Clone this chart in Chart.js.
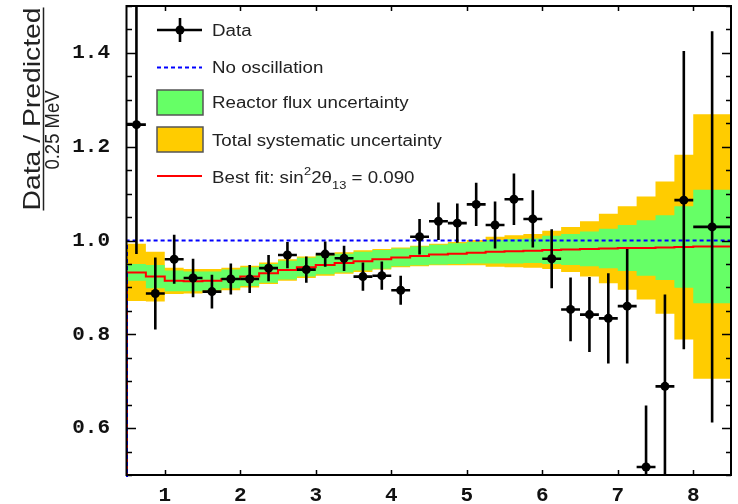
<!DOCTYPE html>
<html><head><meta charset="utf-8">
<script src="https://cdn.jsdelivr.net/npm/chart.js@4.4.0/dist/chart.umd.min.js"></script>
<style>html,body{margin:0;padding:0;background:#fff;}#wrap{width:738px;height:504px;}</style>
</head><body><div id="wrap"><canvas id="c" width="738" height="504"></canvas></div>
<script>
// ---- data ----
const binEdges = [0.5,0.75,1.0,1.25,1.5,1.75,2.0,2.25,2.5,2.75,3.0,3.25,3.5,3.75,4.0,4.25,4.5,4.75,5.0,5.25,5.5,5.75,6.0,6.25,6.5,6.75,7.0,7.25,7.5,7.75,8.0,8.5];
const dataRatio = [1.247,0.887,0.960,0.920,0.891,0.918,0.918,0.941,0.969,0.938,0.971,0.962,0.923,0.925,0.894,1.008,1.041,1.037,1.077,1.033,1.088,1.046,0.961,0.853,0.842,0.834,0.860,0.517,0.689,1.086,1.029];
const dataError = [0.276,0.077,0.052,0.041,0.036,0.033,0.030,0.028,0.028,0.028,0.027,0.027,0.030,0.030,0.031,0.038,0.040,0.042,0.046,0.050,0.055,0.061,0.063,0.068,0.080,0.096,0.122,0.131,0.196,0.318,0.417];
const bestFit = [0.932,0.923,0.914,0.913,0.914,0.918,0.923,0.930,0.937,0.943,0.948,0.952,0.956,0.960,0.964,0.967,0.970,0.972,0.974,0.976,0.977,0.978,0.980,0.981,0.982,0.983,0.984,0.984,0.985,0.986,0.987];
const fluxHalfWidth = [0.018,0.025,0.022,0.021,0.020,0.020,0.020,0.020,0.020,0.020,0.020,0.020,0.020,0.020,0.019,0.020,0.021,0.022,0.023,0.025,0.026,0.026,0.030,0.033,0.037,0.042,0.049,0.059,0.069,0.087,0.121];
const totalHalfWidth = [0.061,0.053,0.028,0.026,0.025,0.024,0.023,0.023,0.023,0.023,0.023,0.023,0.023,0.022,0.021,0.022,0.023,0.025,0.027,0.032,0.034,0.036,0.041,0.048,0.059,0.074,0.089,0.110,0.141,0.197,0.282];
const noOscillation = 1.0;
const xTickValues = [1,2,3,4,5,6,7,8];
const yTickValues = [0.6,0.8,1.0,1.2,1.4];
const yMinorStep = 0.05;
const xRange = [0.5, 8.5];
const yRange = [0.5, 1.5];

// ---- derived structures ----
const nBins = binEdges.length - 1;
const centers = [], halfW = [];
for (let i = 0; i < nBins; i++) { centers.push((binEdges[i]+binEdges[i+1])/2); halfW.push((binEdges[i+1]-binEdges[i])/2); }
function steps(vals) {
  const pts = [];
  for (let i = 0; i < nBins; i++) { pts.push({x: binEdges[i], y: vals[i]}); pts.push({x: binEdges[i+1], y: vals[i]}); }
  return pts;
}
const totUp = bestFit.map((v,i)=>v+totalHalfWidth[i]);
const totLo = bestFit.map((v,i)=>v-totalHalfWidth[i]);
const fluxUp = bestFit.map((v,i)=>v+fluxHalfWidth[i]);
const fluxLo = bestFit.map((v,i)=>v-fluxHalfWidth[i]);

const YELLOW = '#FFCC00', GREEN = '#66FF66';
const none = 'rgba(0,0,0,0)';
const bandDs = (pts, fill, color, order) => ({data: pts, fill: fill, backgroundColor: color, borderColor: none, borderWidth: 0, pointRadius: 0, tension: 0, order: order});

const fitPts = [{x: xRange[0], y: yRange[0]-0.1}].concat(steps(bestFit));
const noOscPts = [{x: xRange[0], y: yRange[0]-0.1}, {x: xRange[0], y: noOscillation}, {x: xRange[1], y: noOscillation}];

const DATA_INDEX = 6;

const errorBarPlugin = {
  id: 'errorBars',
  beforeDatasetDraw(chart, args) {
    if (args.index !== DATA_INDEX) return;
    const {ctx, chartArea: a, scales: {x, y}} = chart;
    ctx.save();
    ctx.beginPath(); ctx.rect(a.left, a.top, a.right-a.left, a.bottom-a.top); ctx.clip();
    ctx.strokeStyle = '#000'; ctx.lineWidth = 2.6; ctx.lineCap = 'butt';
    for (let i = 0; i < nBins; i++) {
      const cx = x.getPixelForValue(centers[i]);
      const cy = y.getPixelForValue(dataRatio[i]);
      ctx.beginPath();
      ctx.moveTo(cx, y.getPixelForValue(dataRatio[i]+dataError[i]));
      ctx.lineTo(cx, y.getPixelForValue(dataRatio[i]-dataError[i]));
      ctx.moveTo(x.getPixelForValue(centers[i]-halfW[i]), cy);
      ctx.lineTo(x.getPixelForValue(centers[i]+halfW[i]), cy);
      ctx.stroke();
    }
    ctx.restore();
  }
};

const framePlugin = {
  id: 'frame',
  afterDraw(chart) {
    const {ctx, chartArea: a, scales: {x, y}} = chart;
    ctx.save();
    ctx.strokeStyle = '#000'; ctx.lineWidth = 2;
    ctx.strokeRect(a.left - 0.5, a.top, a.right-a.left + 0.5, a.bottom-a.top);
    ctx.lineWidth = 1.5;
    ctx.beginPath();
    for (let v = yRange[0]; v <= yRange[1]+1e-9; v += yMinorStep) {
      const vv = Math.round(v*100)/100;
      const major = yTickValues.some(t => Math.abs(t-vv) < 1e-6);
      const len = major ? 9 : 5;
      const py = Math.round(y.getPixelForValue(vv)) + 0.5;
      ctx.moveTo(a.left, py); ctx.lineTo(a.left+len, py);
      ctx.moveTo(a.right, py); ctx.lineTo(a.right-len, py);
    }
    for (const t of xTickValues) {
      const px = Math.round(x.getPixelForValue(t)) + 0.5;
      ctx.moveTo(px, a.bottom); ctx.lineTo(px, a.bottom-5);
      ctx.moveTo(px, a.top); ctx.lineTo(px, a.top+5);
    }
    ctx.stroke();
    ctx.restore();
  }
};

const legendPlugin = {
  id: 'customLegend',
  afterDraw(chart) {
    const ctx = chart.ctx;
    const sx = 1.17;
    const font = '16px "Liberation Sans", Arial, sans-serif';
    const tx = 212;
    function txt(s, x0, yb, f) {
      ctx.save(); ctx.font = f || font; ctx.fillStyle = '#222';
      ctx.translate(x0, yb); ctx.scale(sx, 1); ctx.textBaseline = 'alphabetic'; ctx.fillText(s, 0, 0);
      const w = ctx.measureText(s).width * sx; ctx.restore(); return w;
    }
    ctx.save();
    ctx.strokeStyle = '#000'; ctx.lineWidth = 2.6;
    ctx.beginPath(); ctx.moveTo(157, 30); ctx.lineTo(202, 30); ctx.moveTo(180, 18); ctx.lineTo(180, 42); ctx.stroke();
    ctx.fillStyle = '#000'; ctx.beginPath(); ctx.arc(180, 30, 4.5, 0, Math.PI*2); ctx.fill();
    txt('Data', tx, 36);
    ctx.strokeStyle = '#0000FF'; ctx.lineWidth = 2; ctx.setLineDash([4,3]);
    ctx.beginPath(); ctx.moveTo(157, 67.5); ctx.lineTo(202, 67.5); ctx.stroke(); ctx.setLineDash([]);
    txt('No oscillation', tx, 73);
    ctx.fillStyle = GREEN; ctx.fillRect(157, 90, 46, 25);
    ctx.strokeStyle = '#555'; ctx.lineWidth = 1.5; ctx.strokeRect(157, 90, 46, 25);
    txt('Reactor flux uncertainty', tx, 108);
    ctx.fillStyle = YELLOW; ctx.fillRect(157, 127, 46, 25);
    ctx.strokeStyle = '#555'; ctx.strokeRect(157, 127, 46, 25);
    txt('Total systematic uncertainty', tx, 145.5);
    ctx.strokeStyle = '#FF0000'; ctx.lineWidth = 2;
    ctx.beginPath(); ctx.moveTo(157, 176); ctx.lineTo(202, 176); ctx.stroke();
    let cx = tx;
    const small = '11px "Liberation Sans", Arial, sans-serif';
    cx += txt('Best fit: sin', cx, 182.5);
    cx += txt('2', cx + 0.5, 175, small) + 0.5;
    cx += txt('2\u03B8', cx, 182.5);
    cx += txt('13', cx, 189, small);
    txt(' = 0.090', cx, 182.5);
    ctx.restore();
  }
};

const titlePlugin = {
  id: 'yTitle',
  afterDraw(chart) {
    const ctx = chart.ctx;
    ctx.save();
    ctx.rotate(-Math.PI/2);
    ctx.fillStyle = '#222';
    ctx.textAlign = 'center'; ctx.textBaseline = 'alphabetic';
    ctx.save();
    ctx.font = '24px "Liberation Sans", Arial, sans-serif';
    const w = ctx.measureText('Data / Predicted').width * 1.18;
    ctx.translate(-109, 40); ctx.scale(1.18, 1);
    ctx.fillText('Data / Predicted', 0, 0);
    ctx.restore();
    ctx.strokeStyle = '#222'; ctx.lineWidth = 1.5;
    ctx.beginPath(); ctx.moveTo(-109 - w/2, 43.5); ctx.lineTo(-109 + w/2, 43.5); ctx.stroke();
    ctx.save();
    ctx.font = '21px "Liberation Sans", Arial, sans-serif';
    ctx.translate(-130, 59); ctx.scale(0.88, 1);
    ctx.fillText('0.25 MeV', 0, 0);
    ctx.restore();
    ctx.restore();
  }
};

const tickFont = {family: '"Liberation Mono", "DejaVu Sans Mono", monospace', weight: 'bold', size: 21};

new Chart(document.getElementById('c'), {
  type: 'line',
  data: {
    datasets: [
      bandDs(steps(totUp), '+1', YELLOW, 10),
      bandDs(steps(totLo), false, YELLOW, 10),
      bandDs(steps(fluxUp), '+1', GREEN, 9),
      bandDs(steps(fluxLo), false, GREEN, 9),
      {data: fitPts, borderColor: '#FF0000', borderWidth: 2, pointRadius: 0, fill: false, tension: 0, order: 8, clip: 2},
      {data: noOscPts, borderColor: '#0000FF', borderWidth: 2, borderDash: [4,3], pointRadius: 0, fill: false, tension: 0, order: 7, clip: 2},
      {data: centers.map((c,i)=>({x: c, y: dataRatio[i]})), showLine: false, pointRadius: 4.5, pointBackgroundColor: '#000', pointBorderColor: '#000', pointBorderWidth: 0, fill: false, order: 1}
    ]
  },
  options: {
    responsive: false, animation: false, devicePixelRatio: 1,
    layout: {padding: {left: 0, right: 7, top: 6, bottom: 0}},
    plugins: {legend: {display: false}, tooltip: {enabled: false}},
    scales: {
      x: {type: 'linear', min: xRange[0], max: xRange[1],
          grid: {display: false, drawTicks: false}, border: {display: false},
          afterBuildTicks: s => { s.ticks = xTickValues.map(v => ({value: v})); },
          afterFit: s => { s.height = 29; s.paddingLeft = 0; s.paddingRight = 0; },
          ticks: {font: tickFont, color: '#111', padding: 8, maxRotation: 0, autoSkip: false, callback: v => String(v)}},
      y: {type: 'linear', min: yRange[0], max: yRange[1],
          grid: {display: false, drawTicks: false}, border: {display: false},
          afterBuildTicks: s => { s.ticks = yTickValues.map(v => ({value: v})); },
          afterFit: s => { s.width = 127; s.paddingTop = 0; s.paddingBottom = 0; },
          ticks: {font: tickFont, color: '#111', padding: 17, autoSkip: false, callback: v => Number(v).toFixed(1)}}
    }
  },
  plugins: [errorBarPlugin, framePlugin, legendPlugin, titlePlugin]
});
</script></body></html>
